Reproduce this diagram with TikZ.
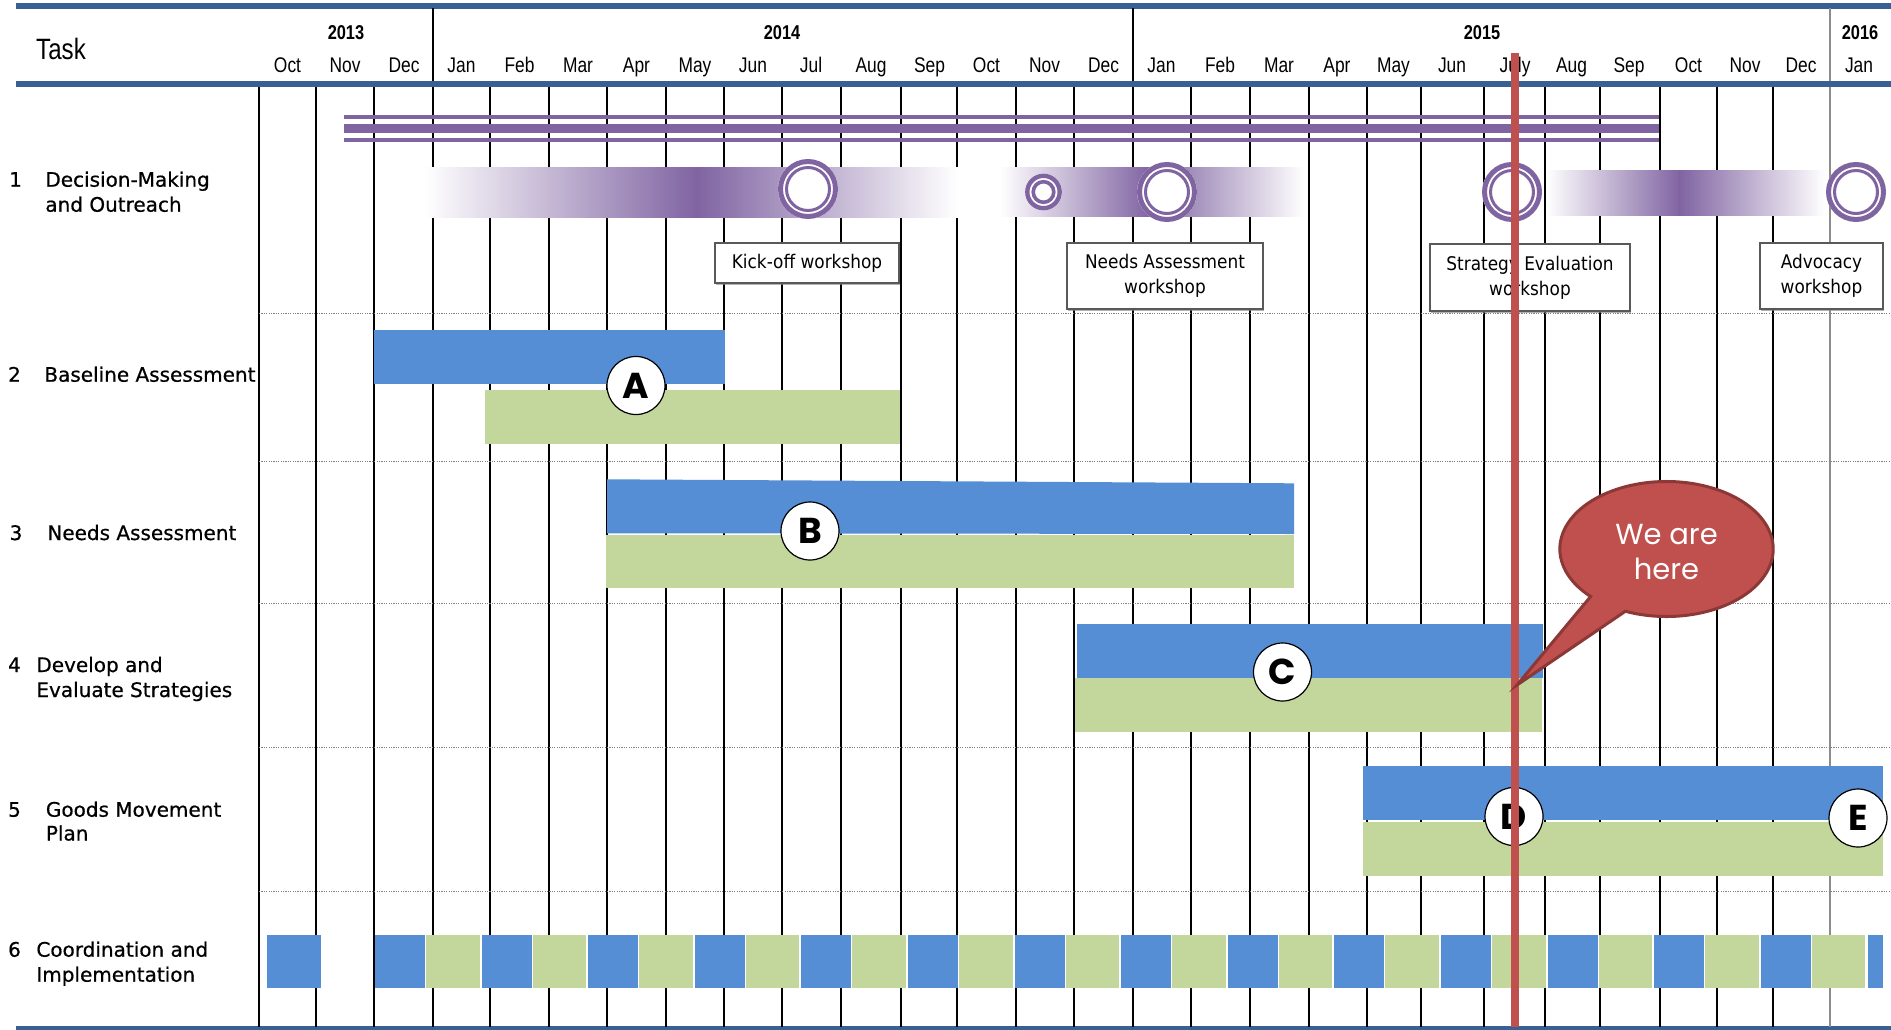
\documentclass[tikz,border=0pt]{standalone}
\usepackage{fontspec}
\setmainfont{DejaVu Sans}
\newfontfamily\narrowfont[FakeStretch=0.82]{Liberation Sans}
\newfontfamily\condfont[FakeStretch=0.9]{DejaVu Sans}
\newfontfamily\taskfont[FakeBold=0.6]{DejaVu Sans}
\newfontfamily\geofont{Poppins}
\usetikzlibrary{shadows}
\definecolor{hdrblue}{RGB}{56,96,146}
\definecolor{barblue}{RGB}{85,142,213}
\definecolor{bargreen}{RGB}{195,214,155}
\definecolor{wspurple}{RGB}{128,100,162}
\definecolor{nowred}{RGB}{192,80,77}
\definecolor{nowdark}{RGB}{140,56,54}
\begin{document}
\begin{tikzpicture}[x=0.5pt,y=-0.5pt,
  hdrline/.style={hdrblue, line width=2.8pt},
  gridline/.style={black, line width=1pt},
  gridlight/.style={black!45, line width=0.6pt},
  rowsep/.style={black!50, line width=0.5pt, dash pattern=on 0.6pt off 0.6pt},
  monthlbl/.style={font=\narrowfont\fontsize{10.6}{12}\selectfont, anchor=base, inner sep=0pt},
  yearlbl/.style={font=\narrowfont\bfseries\fontsize{10}{12}\selectfont, anchor=base, inner sep=0pt},
  tasknum/.style={font=\taskfont\fontsize{10}{12}\selectfont, anchor=base, inner sep=0pt},
  tasklbl/.style={font=\taskfont\fontsize{10}{12}\selectfont, anchor=base west, inner sep=0pt},
  wsbox/.style={draw=black!65, line width=0.6pt, fill=white, align=center, inner sep=0pt,
    font=\condfont\fontsize{9.4}{12.5}\selectfont,
    drop shadow={shadow xshift=0.7pt, shadow yshift=-0.9pt, opacity=0.6}},
  bluebar/.style={fill=barblue},
  greenbar/.style={fill=bargreen},
  mile/.style={circle, draw=black, line width=0.6pt, fill=white, minimum size=29pt, inner sep=0pt,
    font=\geofont\bfseries\fontsize{18}{18}\selectfont},
  purpleline/.style={wspurple},
  redline/.style={nowred, line width=4pt},
  bubble/.style={fill=nowred, draw=nowdark, line width=1.5pt, line join=miter},
  bubbletext/.style={text=white, align=center, inner sep=0pt, font=\geofont\fontsize{14.5}{17.8}\selectfont}
]
\useasboundingbox (0,0) rectangle (1891,1029);
\fill[white] (0,0) rectangle (1891,1029);

% ---------- header ----------
\draw[hdrline] (16,5.8) -- (1891,5.8);
\draw[hdrline] (16,84) -- (1891,84);
\draw[hdrline] (16,1029) -- (1891,1029);
\draw[gridline] (432.5,8) -- (432.5,81);
\draw[gridline] (1133,8) -- (1133,81);
\draw[gridlight] (1830,8) -- (1830,81);

\node[font=\narrowfont\fontsize{14.7}{16}\selectfont, anchor=base, inner sep=0pt] (task) at (61,59.3) {Task};
\node[yearlbl] (y13) at (346,39.3) {2013};
\node[yearlbl] (y14) at (782,39.3) {2014};
\node[yearlbl] (y15) at (1482,39.3) {2015};
\node[yearlbl] (y16) at (1860,39.3) {2016};
\foreach \m/\x [count=\i] in {Oct/287.5, Nov/345, Dec/404, Jan/461.5, Feb/519.5, Mar/578, Apr/636.5, May/695, Jun/753, Jul/811, Aug/871, Sep/929.5, Oct/986.5, Nov/1044.5, Dec/1103.5, Jan/1161.5, Feb/1220, Mar/1279, Apr/1337, May/1393.5, Jun/1452, July/1515, Aug/1571.5, Sep/1629, Oct/1688.5, Nov/1745, Dec/1801, Jan/1859}
  \node[monthlbl] (mon\i) at (\x,72.7) {\m};

% ---------- grid ----------
\foreach \x in {259,316,374,432.5,490,548.5,607,665.5,724,782,841,901,957,1016,1074,1133,1190.5,1250,1309,1367,1421,1484,1545,1600,1660,1717,1773}
  \draw[gridline] (\x,87) -- (\x,1027);
\draw[gridlight] (1830,87) -- (1830,1027);
\foreach \y in {313,461,603,747,891}
  \draw[rowsep] (259,\y) -- (1891,\y);

% ---------- task labels ----------
\node[tasknum] (n1) at (15.5,186.7) {1};
\node[tasklbl] (t1a) at (45,186.7) {Decision-Making};
\node[tasklbl] (t1b) at (45,211.7) {and Outreach};
\node[tasknum] (n2) at (14.5,381.7) {2};
\node[tasklbl] (t2a) at (44,381.7) {Baseline Assessment};
\node[tasknum] (n3) at (16,540) {3};
\node[tasklbl] (t3a) at (47,540) {Needs Assessment};
\node[tasknum] (n4) at (14.5,672) {4};
\node[tasklbl] (t4a) at (36,672) {Develop and};
\node[tasklbl] (t4b) at (36,697) {Evaluate Strategies};
\node[tasknum] (n5) at (14.5,816.7) {5};
\node[tasklbl] (t5a) at (45.5,816.7) {Goods Movement};
\node[tasklbl] (t5b) at (45.5,840.5) {Plan};
\node[tasknum] (n6) at (14.5,956.7) {6};
\node[tasklbl] (t6a) at (36,956.7) {Coordination and};
\node[tasklbl] (t6b) at (36,981.7) {Implementation};

% ---------- row 1: decision making ----------
\draw[purpleline, line width=2pt] (344,117) -- (1659,117);
\draw[purpleline, line width=4.4pt] (344,128.5) -- (1659,128.5);
\draw[purpleline, line width=2pt] (344,139.5) -- (1659,139.5);

\shade[left color=white, right color=wspurple] (424,167) rectangle (697,217);
\shade[left color=wspurple, right color=white] (696.5,167) rectangle (958,217);
\fill[white] (957.5,167) rectangle (1001,217);
\shade[left color=white, right color=wspurple] (1000,167) rectangle (1150,216);
\shade[left color=wspurple, right color=white] (1149.5,167) rectangle (1304,216);
\shade[left color=white, right color=wspurple] (1546,170) rectangle (1680,215);
\shade[left color=wspurple, right color=white] (1679.5,170) rectangle (1825,215);

% rings: outer stroke, white gap, inner stroke
\foreach \cx/\cy in {808/189, 1167/192, 1512/192, 1856/192} {
  \fill[white] (\cx,\cy) circle[radius=30];
  \draw[wspurple, line width=2.5pt] (\cx,\cy) circle[radius=27.5];
  \draw[wspurple, line width=1.5pt] (\cx,\cy) circle[radius=21.5];
}
\fill[white] (1043.5,192) circle[radius=18.5];
\draw[wspurple, line width=2.2pt] (1043.5,192) circle[radius=16.2];
\draw[wspurple, line width=1.8pt] (1043.5,192) circle[radius=10.3];

\node[wsbox, minimum width=92pt, minimum height=20pt] (kick) at (807,263) {Kick-off workshop};
\node[wsbox, minimum width=98pt, minimum height=33pt] (needsws) at (1165,276) {Needs Assessment\\workshop};
\node[wsbox, minimum width=100pt, minimum height=33.5pt] (stratws) at (1530,277.5) {Strategy Evaluation\\workshop};
\node[wsbox, minimum width=61.5pt, minimum height=33pt] (advws) at (1821.5,276) {Advocacy\\workshop};

% ---------- bars ----------
\fill[bluebar] (374,330) rectangle (725,384);
\fill[greenbar] (485,390) rectangle (900,444);
\fill[bluebar] (607,479.3) -- (1294,483.3) -- (1294,534) -- (607,533.3) -- cycle;
\fill[greenbar] (606,535) rectangle (1294,588);
\fill[bluebar] (1077,624) rectangle (1543,678);
\fill[greenbar] (1075,678) rectangle (1542,732);
\fill[bluebar] (1363,766) rectangle (1883,820);
\fill[greenbar] (1363,822) rectangle (1883,876);

% row 6 segments
\fill[bluebar] (267,935) rectangle (321,988);
\foreach \k in {0,...,13} {
  \fill[bluebar] ({375+106.6*\k},935) rectangle ({425+106.6*\k},988);
  \fill[greenbar] ({426+106.6*\k},935) rectangle ({479.5+106.6*\k},988);
}
\fill[bluebar] (1868,935) rectangle (1883,988);

% ---------- milestones ----------
\node[mile] (mA) at (636,385.5) {A};
\node[mile] (mB) at (810,531) {B};
\node[mile] (mC) at (1282.5,672) {C};
\node[mile] (mD) at (1514,816.5) {D};
\node[mile] (mE) at (1858,818) {E};

% ---------- now line ----------
\coordinate (nowtop) at (1515,53);
\coordinate (nowbot) at (1515,1027);
\draw[redline] (nowtop) -- (nowbot);

% ---------- speech bubble ----------
\coordinate (bc) at (1666.5,549);
\coordinate (tip) at (1517,685);
\draw[bubble] (bc) ++(112.7:106.7 and 67.5)
  arc[start angle=112.7, end angle=-224.7, x radius=106.7, y radius=67.5] -- (tip) -- cycle;
\node[bubbletext] (here) at (1666.5,552) {We are\\here};
\end{tikzpicture}
\end{document}
